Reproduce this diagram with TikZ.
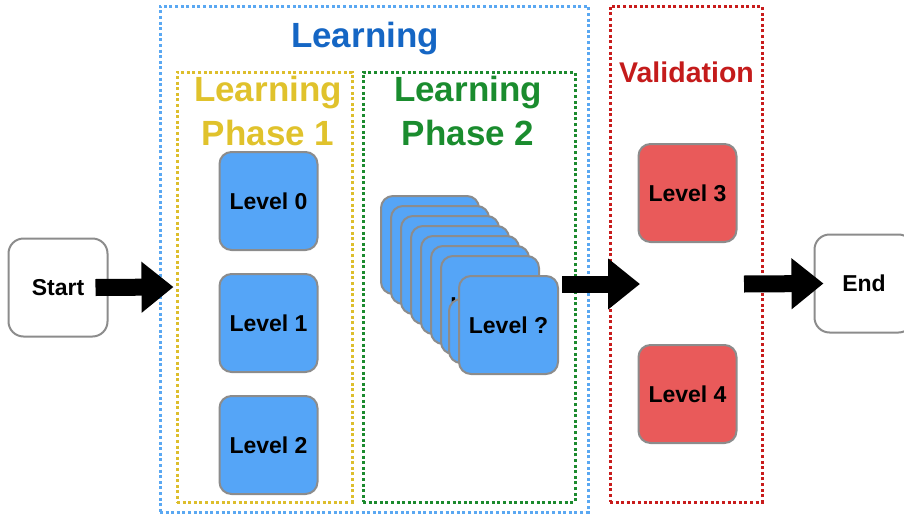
\documentclass[tikz,border=0pt]{standalone}
\usepackage{fontspec}
\setmainfont{Liberation Sans}
\usetikzlibrary{arrows.meta}

\definecolor{lvlblue}{HTML}{55A5F7}
\definecolor{lvlred}{HTML}{E95A5A}
\definecolor{boxgray}{HTML}{8C8C8C}
\definecolor{frameblue}{HTML}{5AA8F2}
\definecolor{frameyellow}{HTML}{DDBE2C}
\definecolor{framegreen}{HTML}{1C8A2E}
\definecolor{framered}{HTML}{C81C1C}
\definecolor{titleblue}{HTML}{1566C4}
\definecolor{titleyellow}{HTML}{E0C22C}
\definecolor{titlegreen}{HTML}{1A8C2E}
\definecolor{titlered}{HTML}{C41B1B}

\tikzset{
  frame/.style={line width=3pt, dash pattern=on 3pt off 2.6pt, inner sep=0pt},
  levelbox/.style={draw=boxgray, line width=2pt, rounded corners=12pt,
    minimum width=98pt, minimum height=98pt, inner sep=0pt,
    font=\fontsize{23}{27}\selectfont\bfseries},
  bluebox/.style={levelbox, fill=lvlblue},
  redbox/.style={levelbox, fill=lvlred},
  endpoint/.style={draw=boxgray, line width=2pt, fill=white, rounded corners=15pt,
    minimum width=99pt, minimum height=98pt, inner sep=0pt,
    font=\fontsize{23}{27}\selectfont\bfseries},
  title/.style={font=\fontsize{35}{40}\selectfont\bfseries, anchor=base, inner sep=0pt},
  subtitle/.style={font=\fontsize{28.5}{32}\selectfont\bfseries, anchor=base, inner sep=0pt},
  bigarrow/.style={line width=17pt, -{Triangle[length=32pt,width=49pt]}},
}

\begin{document}
\begin{tikzpicture}[x=1pt,y=-1pt]
\useasboundingbox (0,0) rectangle (904,514);
\clip (0,0) rectangle (904,514);

% dotted group frames
\node[frame, draw=frameblue, minimum width=428pt, minimum height=506pt] (learning) at (374,259) {};
\node[frame, draw=frameyellow, minimum width=175pt, minimum height=430pt] (phaseone) at (264.5,287) {};
\node[frame, draw=framegreen, minimum width=212pt, minimum height=430pt] (phasetwo) at (469,287) {};
\node[frame, draw=framered, minimum width=152pt, minimum height=496pt] (validation) at (686,254) {};

% group titles
\node[title, text=titleblue] (tlearn) at (365,47) {Learning};
\node[title, text=titleyellow] (tp1a) at (268,101) {Learning};
\node[title, text=titleyellow] (tp1b) at (268,145) {Phase 1};
\node[title, text=titlegreen] (tp2a) at (468,101) {Learning};
\node[title, text=titlegreen] (tp2b) at (468,145) {Phase 2};
\node[subtitle, text=titlered] (tval) at (686.5,82) {Validation};

% start and end
\node[endpoint] (start) at (58,287.5) {Start};
\node[endpoint] (end) at (864,283.5) {End};

% phase 1 levels
\node[bluebox] (l0) at (268.5,201) {Level 0};
\node[bluebox] (l1) at (268.5,323) {Level 1};
\node[bluebox] (l2) at (268.5,445) {Level 2};

% phase 2: stack of unknown levels (labels of the buried cards are hidden)
\foreach \i in {0,...,5} {
  \node[bluebox, anchor=north west] (card\i) at (380+10*\i,195+10*\i) {};
}
\node[bluebox, anchor=north west] (card6) at (440,255) {Level ?};
\node[bluebox, anchor=north west, minimum height=64pt] (card7) at (448,298) {};
\node[bluebox, anchor=north west, minimum width=99pt] (front) at (458,275) {Level ?};

% validation levels
\node[redbox] (l3) at (687.5,193) {Level 3};
\node[redbox] (l4) at (687.5,394) {Level 4};

% flow arrows
\coordinate (valin) at (640,284);
\coordinate (valout) at (744,284);
\draw[bigarrow] ([xshift=-13pt]start.east) -- ([xshift=-2pt]phaseone.west);
\draw[bigarrow] ([xshift=3pt]front.east |- valin) -- (valin);
\draw[bigarrow] (valout) -- ([xshift=10pt]end.west);
\end{tikzpicture}
\end{document}
